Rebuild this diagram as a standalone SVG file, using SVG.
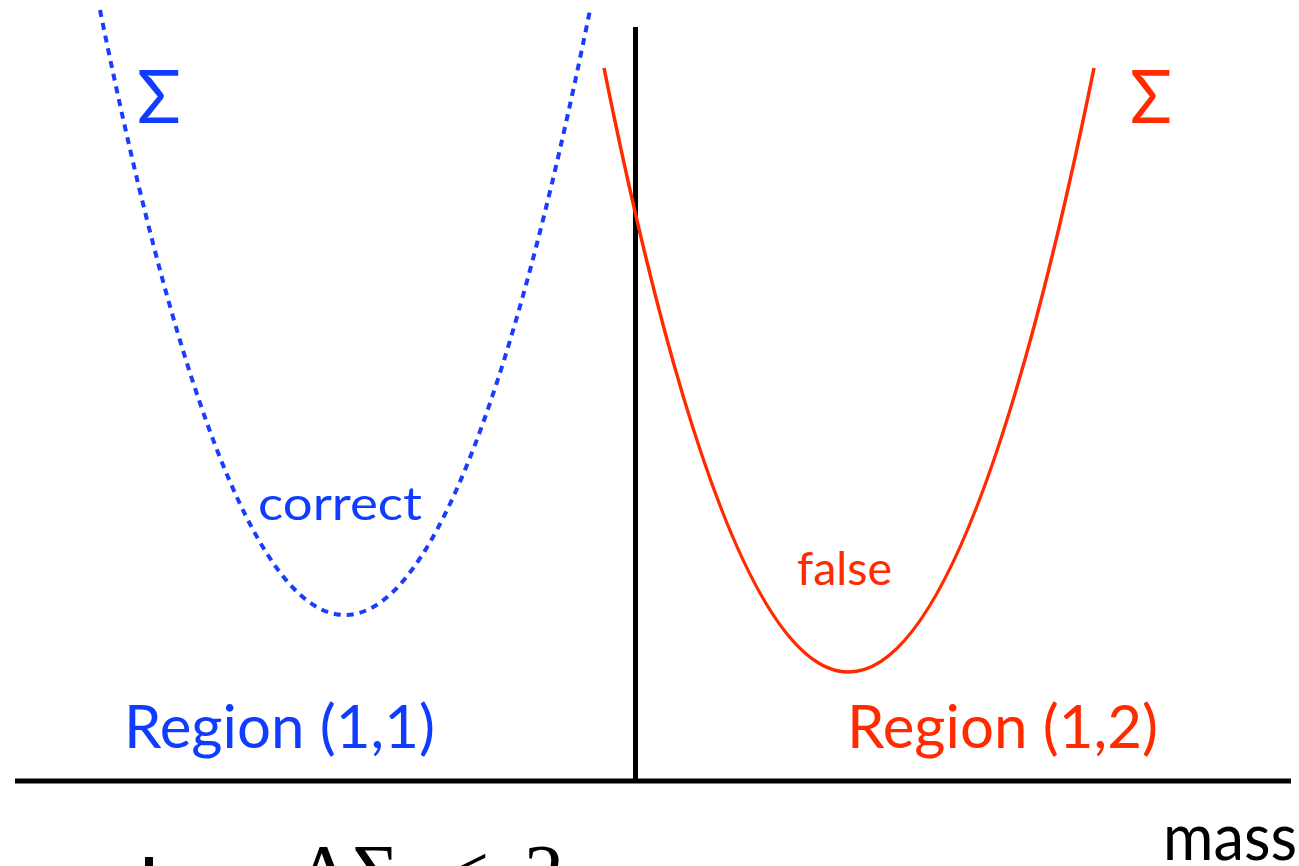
<svg xmlns="http://www.w3.org/2000/svg" width="1299" height="866" viewBox="0 0 1299 866">
<style>
.sans{font-family:Lato,"Open Sans","Liberation Sans",sans-serif;}
.blue{fill:#0f3cff;}
.red{fill:#ff2a00;}
.axis{stroke:#000;stroke-width:5;fill:none;}
</style>
<rect width="1299" height="866" fill="#fff"/>
<g id="axes">
<line class="axis" x1="15" y1="781" x2="1291" y2="781"/>
<line class="axis" x1="635.5" y1="27" x2="635.5" y2="781"/>
</g>
<g id="curves">
<path id="correct-curve" d="M100,10 Q345,1220 590,10" fill="none" stroke="#1a3cff" stroke-width="4" stroke-dasharray="7,6"/>
<path id="false-curve" d="M604,68 Q848,1276 1094,68" fill="none" stroke="#ff2a00" stroke-width="3.5"/>
</g>
<g id="labels">
<text class="sans blue" x="137" y="123" font-size="74" textLength="44" lengthAdjust="spacingAndGlyphs">Σ</text>
<text class="sans red" x="1130" y="123" font-size="74" textLength="42" lengthAdjust="spacingAndGlyphs">Σ</text>
<text class="sans blue" x="258" y="520" font-size="47" textLength="164" lengthAdjust="spacingAndGlyphs">correct</text>
<text class="sans red" x="797" y="585" font-size="46" textLength="95" lengthAdjust="spacingAndGlyphs">false</text>
<text class="sans blue" x="124" y="748" font-size="60" textLength="311" lengthAdjust="spacingAndGlyphs">Region (1,1)</text>
<text class="sans red" x="847" y="748" font-size="60" textLength="311" lengthAdjust="spacingAndGlyphs">Region (1,2)</text>
<text class="sans" x="1163" y="860" font-size="64" fill="#000" textLength="134" lengthAdjust="spacingAndGlyphs">mass</text>
</g>
<g id="formula">
<rect x="145" y="857" width="8" height="9" fill="#000"/>
<text y="900" font-family="'Liberation Serif','DejaVu Serif',serif" font-size="80" fill="#000"><tspan x="298">Δ</tspan><tspan x="352">Σ</tspan><tspan x="444">&lt;</tspan><tspan x="524">2</tspan></text>
</g>
</svg>
